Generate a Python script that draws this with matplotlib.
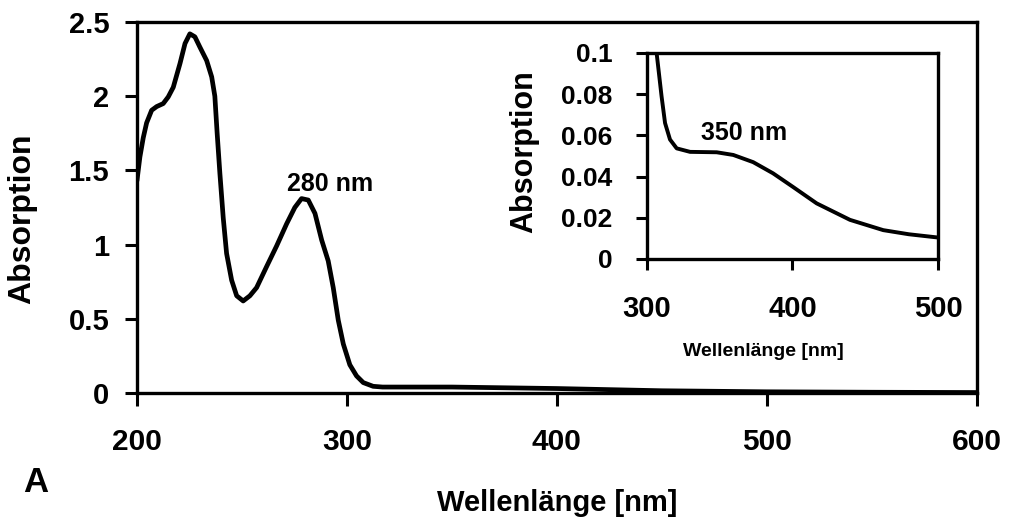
import matplotlib
matplotlib.use("Agg")
import matplotlib.pyplot as plt

# Main spectrum
wavelength = [200, 201.4, 203, 204.6, 207, 209.4, 212.5, 214.9, 217.3, 220.5, 222.9, 225.2, 227.6,
              230, 233.2, 235.6, 237.1, 238.2, 239.5, 241.1, 242.7, 245.1, 247.5, 250.6, 253.8,
              257, 261.7, 266.5, 271.3, 275.2, 278.4, 281.6, 284.8, 288, 291.1, 293.5, 295.9,
              298.3, 301.4, 304.6, 307.8, 312.5, 317, 350, 400, 450, 500, 550, 600]
absorption = [1.43, 1.59, 1.72, 1.82, 1.905, 1.93, 1.95, 1.995, 2.06, 2.22, 2.355, 2.42, 2.40,
              2.33, 2.24, 2.13, 2.00, 1.75, 1.48, 1.18, 0.94, 0.76, 0.655, 0.62, 0.655,
              0.71, 0.85, 0.99, 1.14, 1.25, 1.31, 1.30, 1.21, 1.03, 0.89, 0.71, 0.49,
              0.33, 0.19, 0.115, 0.07, 0.045, 0.04, 0.04, 0.03, 0.015, 0.008, 0.005, 0.003]

# Inset (zoom 300-500 nm)
inset_wavelength = [305, 306.6, 310, 312.4, 315.8, 320.4, 329.6, 347.9, 359.3, 373, 386.6,
                    400.3, 416.6, 439.5, 462.4, 480, 499]
inset_absorption = [0.12, 0.1, 0.079, 0.066, 0.058, 0.0537, 0.052, 0.0518, 0.0505, 0.047, 0.0416,
                    0.035, 0.027, 0.019, 0.014, 0.012, 0.0105]

main_xticks = [200, 300, 400, 500, 600]
main_yticks = [0, 0.5, 1, 1.5, 2, 2.5]
main_yticklabels = ["0", "0.5", "1", "1.5", "2", "2.5"]
inset_xticks = [300, 400, 500]
inset_yticks = [0, 0.02, 0.04, 0.06, 0.08, 0.1]
inset_yticklabels = ["0", "0.02", "0.04", "0.06", "0.08", "0.1"]

plt.rcParams['font.family'] = ["Liberation Sans", "DejaVu Sans"]
plt.rcParams['font.weight'] = 'bold'

fig = plt.figure(figsize=(10.1, 5.23), dpi=100)
ax = fig.add_axes([0.1356, 0.2486, 0.967 - 0.1356, 0.958 - 0.2486])
ax.plot(wavelength, absorption, color="black", lw=3.4, solid_joinstyle="round", solid_capstyle="round")
ax.set_xlim(200, 600)
ax.set_ylim(0, 2.5)
ax.set_xticks(main_xticks)
ax.set_yticks(main_yticks)
ax.set_yticklabels(main_yticklabels, fontsize=21, fontweight="bold")
ax.set_xticklabels([str(t) for t in main_xticks], fontsize=21.5, fontweight="bold")
ax.tick_params(axis="both", direction="out", length=9, width=2.2)
ax.tick_params(axis="x", pad=16)
ax.tick_params(axis="y", pad=11)
for s in ax.spines.values():
    s.set_linewidth(2.4)
ax.set_xlabel("Wellenlänge [nm]", fontsize=21, fontweight="bold")
ax.set_ylabel("Absorption", fontsize=23, fontweight="bold")
ax.xaxis.set_label_coords(0.5, -0.2965)
ax.xaxis.label.set_va("center")
ax.yaxis.set_label_coords(-0.137, 0.469)
ax.yaxis.label.set_va("center")
ax.text(292, 1.41, "280 nm", fontsize=18, fontweight="bold", ha="center", va="center")
fig.text(0.0356, 0.078, "A", fontsize=25, fontweight="bold", ha="center", va="center")

ins = fig.add_axes([0.6406, 0.5048, 0.9287 - 0.6406, 0.8987 - 0.5048])
ins.set_facecolor("white")
ins.plot(inset_wavelength, inset_absorption, color="black", lw=2.8, solid_joinstyle="round")
ins.set_xlim(300, 500)
ins.set_ylim(0, 0.1)
ins.set_xticks(inset_xticks)
ins.set_yticks(inset_yticks)
ins.set_yticklabels(inset_yticklabels, fontsize=19, fontweight="bold")
ins.set_xticklabels([str(t) for t in inset_xticks], fontsize=21, fontweight="bold")
ins.tick_params(axis="both", direction="out", length=8, width=2.2)
ins.tick_params(axis="x", pad=18)
ins.tick_params(axis="y", pad=17)
for s in ins.spines.values():
    s.set_linewidth(2.4)
ins.set_xlabel("Wellenlänge [nm]", fontsize=14, fontweight="bold")
ins.set_ylabel("Absorption", fontsize=22, fontweight="bold")
ins.xaxis.set_label_coords(0.399, -0.451)
ins.xaxis.label.set_va("center")
ins.yaxis.set_label_coords(-0.423, 0.519)
ins.yaxis.label.set_va("center")
ins.text(367, 0.061, "350 nm", fontsize=18, fontweight="bold", ha="center", va="center")

fig.savefig("out.png", dpi=100)
